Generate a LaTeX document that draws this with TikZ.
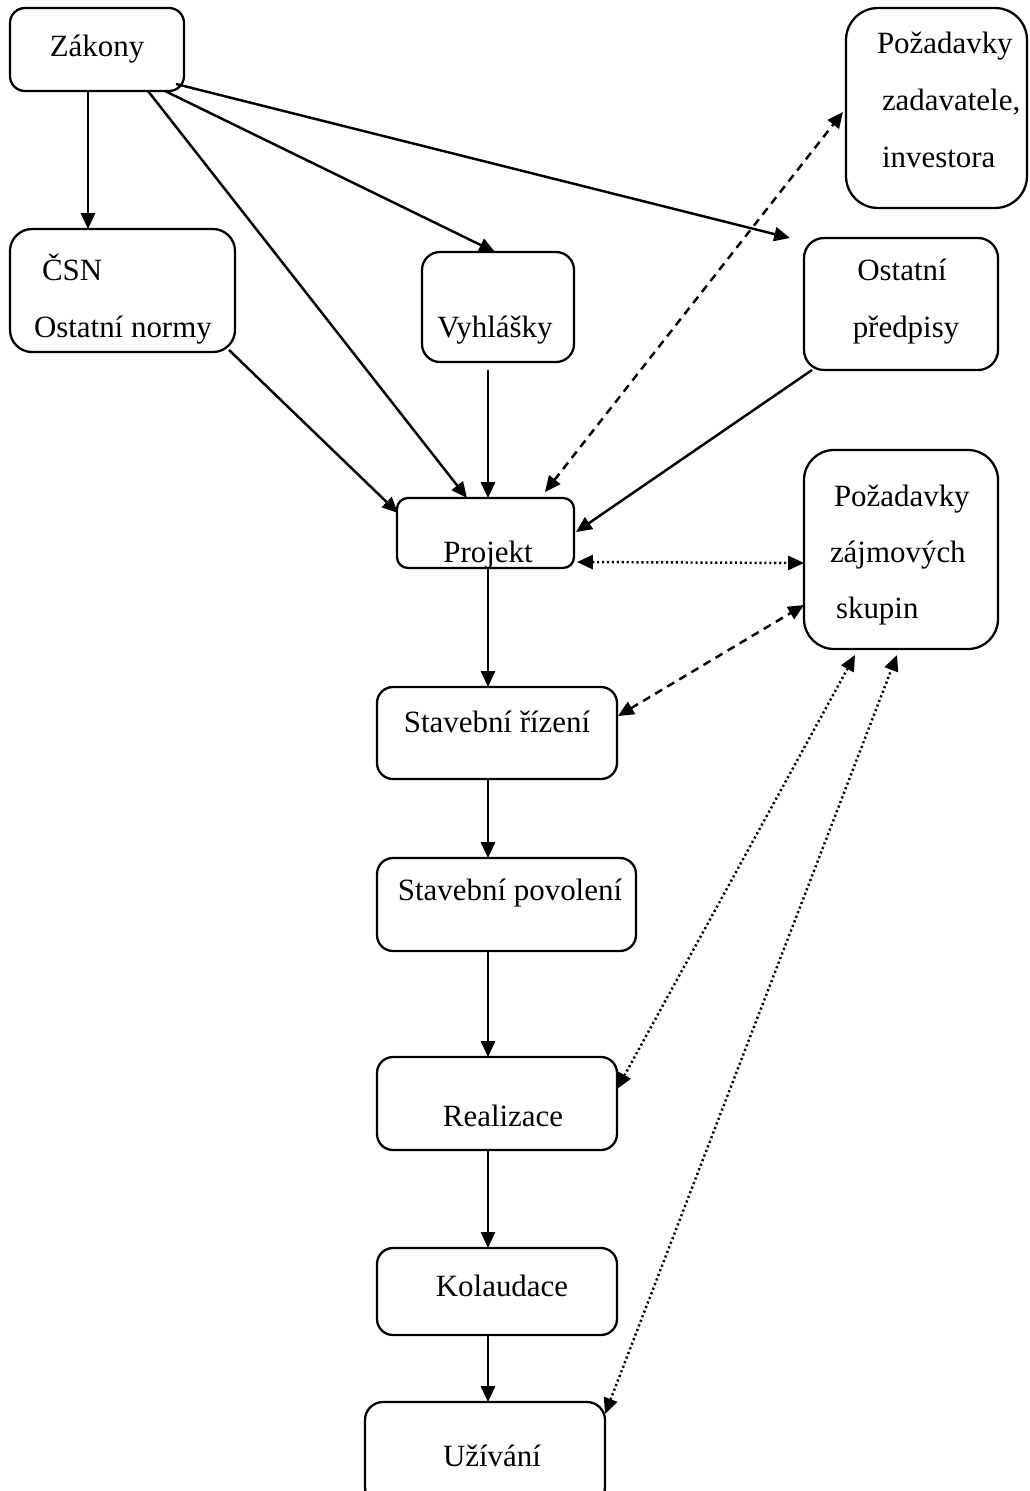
\documentclass[tikz,border=0pt]{standalone}
\usepackage{fontspec}
\setmainfont{Liberation Serif}
\usetikzlibrary{arrows.meta,calc}
\tikzset{
  box/.style={draw, line width=1.3pt, inner sep=0pt, outer sep=0pt},
  lbl/.style={inner sep=0pt, outer sep=0pt, font=\fontsize{17.6}{20}\selectfont},
  conn/.style={line width=1.4pt, -{Triangle[length=9pt,width=8pt]}},
  dconn/.style={line width=1.4pt, {Triangle[length=9pt,width=8pt]}-{Triangle[length=9pt,width=8pt]}},
  dash2/.style={dash pattern=on 4.6pt off 3.4pt},
  dot2/.style={dash pattern=on 1.2pt off 1.6pt}
}
\newcommand\pbox[6]{\node[box, rounded corners={#6*0.02cm}, minimum width={(#4-#2)*0.02cm}, minimum height={(#5-#3)*0.02cm}] (#1) at ({(#2+#4)/2},{(#3+#5)/2}) {};}
\begin{document}
\begin{tikzpicture}[x=0.02cm,y=-0.02cm]
\useasboundingbox (0,0) rectangle (1030,1491);
% boxes
\pbox{zak}{10}{8}{184}{91}{15}
\pbox{zad}{846}{8}{1027}{208}{32}
\pbox{csn}{10}{229}{235}{352}{22}
\pbox{vyh}{422}{252}{574}{362}{18}
\pbox{ost}{804}{238}{998}{370}{20}
\pbox{pro}{397}{498}{574}{568}{11}
\pbox{zaj}{804}{450}{998}{649}{30}
\pbox{ri}{377}{687}{617}{779}{16}
\pbox{po}{377}{858}{636}{951}{16}
\pbox{re}{377}{1057}{617}{1150}{16}
\pbox{ko}{377}{1248}{617}{1335}{16}
\pbox{uz}{365}{1402}{605}{1505}{18}
% texts
\node[lbl, anchor=base] (tzak) at (97,56) {Zákony};
\node[lbl, anchor=base west] (tzad1) at (877,53) {Požadavky};
\node[lbl, anchor=base west] (tzad2) at (882,110) {zadavatele,};
\node[lbl, anchor=base west] (tzad3) at (882,167) {investora};
\node[lbl, anchor=base west] (tcsn1) at (42,280) {ČSN};
\node[lbl, anchor=base west] (tcsn2) at (34,337) {Ostatní normy};
\node[lbl, anchor=base] (tvyh) at (495,337) {Vyhlášky};
\node[lbl, anchor=base] (tost1) at (902,280) {Ostatní};
\node[lbl, anchor=base] (tost2) at (906,337) {předpisy};
\node[lbl, anchor=base] (tpro) at (488,562) {Projekt};
\node[lbl, anchor=base west] (tzaj1) at (834,506) {Požadavky};
\node[lbl, anchor=base west] (tzaj2) at (830,562) {zájmových};
\node[lbl, anchor=base west] (tzaj3) at (836,618) {skupin};
\node[lbl, anchor=base] (tri) at (497,732) {Stavební řízení};
\node[lbl, anchor=base] (tpo) at (510,900) {Stavební povolení};
\node[lbl, anchor=base] (tre) at (503,1126) {Realizace};
\node[lbl, anchor=base] (tko) at (502,1296) {Kolaudace};
\node[lbl, anchor=base] (tuz) at (492,1466) {Užívání};
% solid connectors
\draw[conn] ($(zak.south west)+(78,0)$) -- ($(csn.north west)+(78,0)$);
\draw[conn] ($(zak.south west)+(138,0)$) -- ($(pro.north west)+(70,0)$);
\draw[conn] ($(zak.south west)+(155,0)$) -- ($(vyh.north west)+(73,0)$);
\draw[conn] ($(zak.south east)+(-8,-7)$) -- ($(ost.north west)+(-14,0)$);
\draw[conn] ($(csn.south east)+(-6,-2)$) -- ($(pro.north west)+(1,15)$);
\draw[conn] ($(vyh.south west)+(66,8)$) -- ($(pro.north west)+(91,0)$);
\draw[conn] ($(ost.south west)+(8,0)$) -- ($(pro.north east)+(2,34)$);
\draw[conn] ($(pro.south west)+(91,0)$) -- ($(ri.north west)+(111,0)$);
\draw[conn] ($(ri.south west)+(111,0)$) -- ($(po.north west)+(111,0)$);
\draw[conn] ($(po.south west)+(111,0)$) -- ($(re.north west)+(111,0)$);
\draw[conn] ($(re.south west)+(111,0)$) -- ($(ko.north west)+(111,0)$);
\draw[conn] ($(ko.south west)+(111,0)$) -- ($(uz.north west)+(123,0)$);
% dashed / dotted double connectors
\draw[dconn, dash2] ($(pro.north east)+(-29,-6)$) -- ($(zad.north west)+(-3,104)$);
\draw[dconn, dot2] ($(pro.south east)+(3,-6)$) -- ($(zaj.north west)+(0,113)$);
\draw[dconn, dash2] ($(ri.north east)+(1,29)$) -- ($(zaj.north west)+(0,155)$);
\draw[dconn, dot2] ($(re.north east)+(0,32)$) -- ($(zaj.south west)+(51,6)$);
\draw[dconn, dot2] ($(uz.north east)+(0,12)$) -- ($(zaj.south west)+(93,6)$);
\end{tikzpicture}
\end{document}
